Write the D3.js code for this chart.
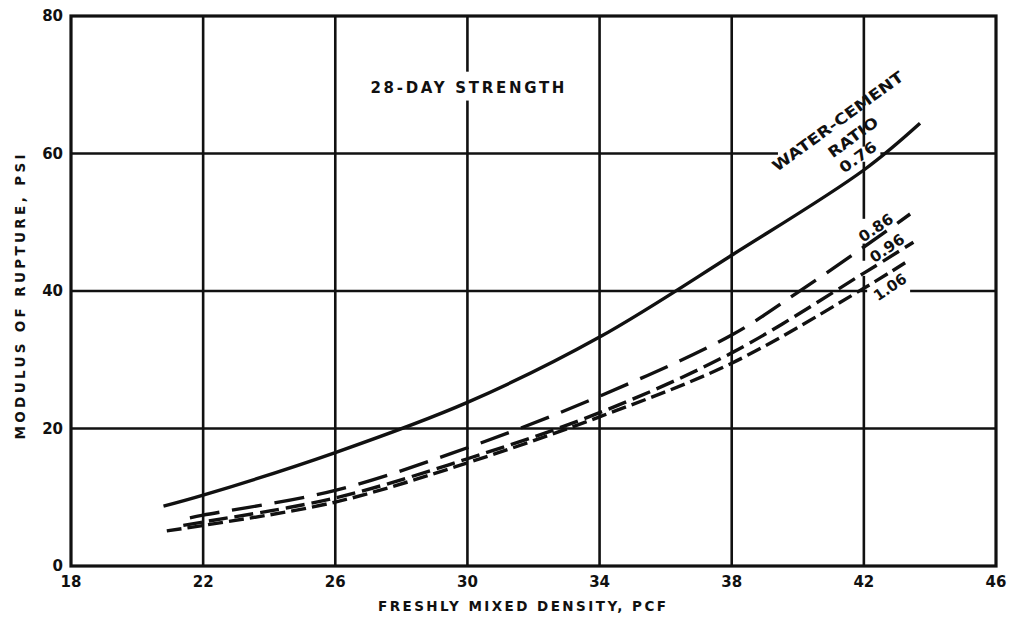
<!DOCTYPE html>
<html>
<head>
<meta charset="utf-8">
<script src="https://cdn.jsdelivr.net/npm/d3@7"></script>
<style>
  html, body { margin: 0; padding: 0; background: #fff; }
  svg { display: block; }
  text { font-family: "DejaVu Sans", sans-serif; font-weight: bold; fill: #111; }
</style>
</head>
<body>
<svg id="chart" width="1010" height="621"></svg>
<script>
// Axis ticks
const xTicks = [18, 22, 26, 30, 34, 38, 42, 46];
const yTicks = [0, 20, 40, 60, 80];

// Water-cement ratio curves: freshly mixed density (pcf) vs modulus of rupture (psi)
const ratios = ["0.76", "0.86", "0.96", "1.06"];
const density076 = [20.8, 22, 26, 30, 34, 38, 42, 43.7];
const mor076     = [8.7, 10.3, 16.5, 23.8, 33.3, 45.2, 57.6, 64.4];
const density086 = [21.6, 22, 26, 30, 34, 38, 40, 42, 43.4];
const mor086     = [7.0, 7.4, 11.0, 17.2, 24.7, 33.6, 39.8, 46.4, 51.2];
const density096 = [21.4, 22, 26, 30, 34, 38, 42, 43.5];
const mor096     = [5.9, 6.4, 9.9, 15.6, 22.3, 31.0, 42.6, 47.1];
const density106 = [20.9, 22, 26, 30, 34, 38, 42, 43.25];
const mor106     = [5.1, 5.9, 9.3, 15.0, 21.7, 29.5, 40.4, 44.1];

const series = [
  { ratio: ratios[0], x: density076, y: mor076, dash: null },
  { ratio: ratios[1], x: density086, y: mor086, dash: "30,13" },
  { ratio: ratios[2], x: density096, y: mor096, dash: "19,7" },
  { ratio: ratios[3], x: density106, y: mor106, dash: "15,6" }
];

const svg = d3.select("#chart");
const x = d3.scaleLinear().domain([18, 46]).range([71, 996]);
const y = d3.scaleLinear().domain([0, 80]).range([566, 16]);

// Grid
const grid = svg.append("g").attr("stroke", "#111").attr("stroke-width", 2.6);
grid.selectAll("line.v").data(xTicks.slice(1, -1)).join("line")
  .attr("x1", d => x(d)).attr("x2", d => x(d))
  .attr("y1", y(80)).attr("y2", y(0));
grid.selectAll("line.h").data(yTicks.slice(1, -1)).join("line")
  .attr("x1", x(18)).attr("x2", x(46))
  .attr("y1", d => y(d)).attr("y2", d => y(d));

// Clear gridlines behind the annotations
const masks = svg.append("g").attr("fill", "#fff");
masks.append("rect")   // title
  .attr("x", x(28.8)).attr("y", y(71.9)).attr("width", x(31.2) - x(28.8)).attr("height", y(67.7) - y(71.9));
masks.append("rect")   // ratio heading across the 60 line
  .attr("x", x(39.4)).attr("y", y(61)).attr("width", x(42.5) - x(39.4)).attr("height", y(58.8) - y(61));
masks.append("rect")   // 42 line behind 0.86 label
  .attr("x", x(41.85)).attr("y", y(50.5)).attr("width", x(42.15) - x(41.85)).attr("height", y(46.9) - y(50.5));
masks.append("rect")   // 42 line behind 0.96 label
  .attr("x", x(41.85)).attr("y", y(44.4)).attr("width", x(42.15) - x(41.85)).attr("height", y(42.2) - y(44.4));
masks.append("rect")   // 40 line behind 1.06 label
  .attr("x", x(42.1)).attr("y", y(41)).attr("width", x(43.4) - x(42.1)).attr("height", y(39) - y(41));

// Frame
svg.append("rect")
  .attr("x", x(18)).attr("y", y(80))
  .attr("width", x(46) - x(18)).attr("height", y(0) - y(80))
  .attr("fill", "none").attr("stroke", "#111").attr("stroke-width", 3.2);

// Curves
const line = d3.line().curve(d3.curveCatmullRom.alpha(0.5));
svg.append("g").selectAll("path").data(series).join("path")
  .attr("d", s => line(s.x.map((v, i) => [x(v), y(s.y[i])])))
  .attr("fill", "none")
  .attr("stroke", "#111")
  .attr("stroke-width", 3.4)
  .attr("stroke-dasharray", s => s.dash);

// Tick labels
svg.append("g").selectAll("text").data(xTicks).join("text")
  .attr("x", d => x(d)).attr("y", 587)
  .attr("text-anchor", "middle").attr("font-size", 15)
  .text(d => d);
svg.append("g").selectAll("text").data(yTicks).join("text")
  .attr("x", 63).attr("y", d => y(d) + 5)
  .attr("text-anchor", "end").attr("font-size", 15)
  .text(d => d);

// Axis titles
svg.append("text")
  .attr("x", 522).attr("y", 611)
  .attr("text-anchor", "middle").attr("font-size", 13.5)
  .attr("textLength", 288).attr("lengthAdjust", "spacing")
  .text("FRESHLY MIXED DENSITY, PCF");
svg.append("text")
  .attr("transform", "translate(25,297) rotate(-90)")
  .attr("text-anchor", "middle").attr("font-size", 13.5)
  .attr("textLength", 285).attr("lengthAdjust", "spacing")
  .text("MODULUS OF RUPTURE, PSI");

// Title
svg.append("text")
  .attr("x", x(30)).attr("y", y(69.7) + 6)
  .attr("text-anchor", "middle").attr("font-size", 15)
  .attr("textLength", 194).attr("lengthAdjust", "spacing")
  .text("28-DAY STRENGTH");

// Curve annotations
const notes = [
  { t: "WATER-CEMENT", cx: 41.21, cy: 64.7, a: -36, len: 158 },
  { t: "RATIO",        cx: 41.67, cy: 62.4, a: -36, len: 58 },
  { t: ratios[0],      cx: 41.82, cy: 59.5, a: -36, len: 42 },
  { t: ratios[1],      cx: 42.36, cy: 49.2, a: -34, len: 38 },
  { t: ratios[2],      cx: 42.7,  cy: 46.25, a: -34, len: 38 },
  { t: ratios[3],      cx: 42.79, cy: 40.6, a: -34, len: 36 }
];
svg.append("g").selectAll("text").data(notes).join("text")
  .attr("transform", d => `translate(${x(d.cx)},${y(d.cy)}) rotate(${d.a})`)
  .attr("text-anchor", "middle").attr("dy", "0.36em")
  .attr("font-size", 15)
  .attr("textLength", d => d.len).attr("lengthAdjust", "spacingAndGlyphs")
  .text(d => d.t);
</script>
</body>
</html>
